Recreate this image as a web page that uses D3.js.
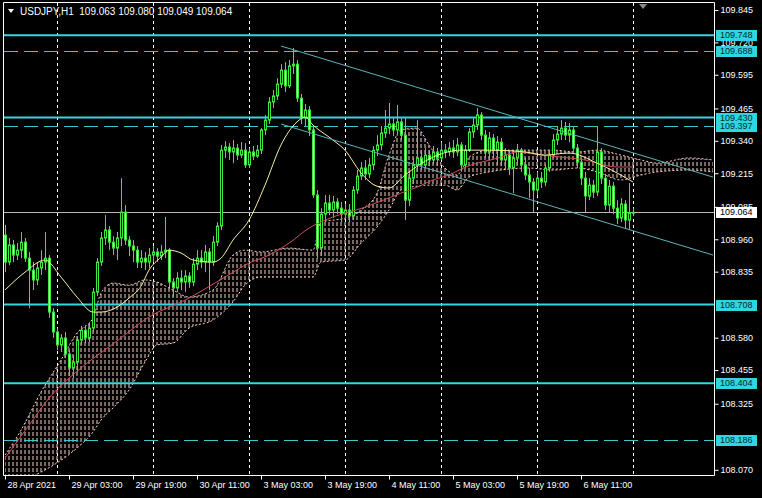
<!DOCTYPE html>
<html><head><meta charset="utf-8">
<script src="https://cdn.jsdelivr.net/npm/d3@7"></script>
<style>html,body{margin:0;padding:0;background:#000;}svg{display:block;}</style>
</head><body><svg id="c" width="762" height="498"></svg>
<script>
// ---------- DATA ----------
const symbolTitle = "USDJPY,H1";
const lastQuote = [109.063, 109.080, 109.049, 109.064];
// hourly bars from 28 Apr 2021 11:00, [open, high, low, close]
const ohlc = [
[108.976,109.015,108.833,108.872],[108.872,108.965,108.860,108.938],[108.938,108.957,108.872,108.899],[108.899,108.945,108.880,108.918],
[108.918,108.988,108.887,108.949],[108.949,108.965,108.872,108.887],[108.887,108.911,108.694,108.841],[108.841,108.872,108.764,108.803],
[108.803,108.872,108.783,108.849],[108.849,108.918,108.822,108.872],[108.872,108.988,108.841,108.887],[108.887,108.899,108.656,108.679],
[108.679,108.694,108.579,108.602],[108.602,108.617,108.532,108.552],[108.552,108.594,108.525,108.579],[108.579,108.602,108.501,108.517],
[108.517,108.532,108.432,108.463],[108.463,108.513,108.424,108.486],[108.486,108.586,108.447,108.571],[108.571,108.625,108.552,108.609],
[108.609,108.629,108.559,108.579],[108.579,108.640,108.563,108.617],[108.617,108.772,108.602,108.756],[108.756,108.887,108.741,108.872],
[108.872,108.988,108.857,108.965],[108.965,109.053,108.938,108.996],[108.996,109.011,108.918,108.949],[108.949,108.972,108.899,108.926],
[108.926,108.988,108.880,108.965],[108.965,109.196,108.934,109.065],[109.065,109.092,108.938,108.957],[108.957,108.972,108.895,108.934],
[108.934,108.957,108.872,108.918],[108.918,108.934,108.849,108.872],[108.872,108.918,108.849,108.887],[108.887,108.911,108.841,108.872],
[108.872,108.926,108.849,108.899],[108.899,108.934,108.872,108.911],[108.911,108.926,108.872,108.895],[108.895,108.938,108.880,108.911],
[108.911,109.046,108.887,108.918],[108.918,108.926,108.772,108.795],[108.795,108.810,108.737,108.772],[108.772,108.833,108.756,108.810],
[108.810,108.841,108.764,108.795],[108.795,108.841,108.756,108.818],[108.818,108.833,108.772,108.795],[108.795,108.887,108.779,108.864],
[108.864,108.918,108.841,108.887],[108.887,108.918,108.849,108.872],[108.872,108.938,108.833,108.911],[108.911,108.926,108.764,108.872],
[108.872,108.972,108.857,108.949],[108.949,109.026,108.934,109.011],[109.011,109.324,108.996,109.304],[109.304,109.339,109.274,109.316],
[109.316,109.331,109.266,109.297],[109.297,109.343,109.254,109.312],[109.312,109.328,109.266,109.285],[109.285,109.335,109.274,109.304],
[109.304,109.331,109.235,109.247],[109.247,109.312,109.235,109.297],[109.297,109.320,109.266,109.281],[109.281,109.324,109.274,109.304],
[109.304,109.389,109.289,109.382],[109.382,109.440,109.362,109.420],[109.420,109.509,109.405,109.490],[109.490,109.536,109.467,109.513],
[109.513,109.582,109.498,109.559],[109.559,109.636,109.544,109.613],[109.613,109.644,109.528,109.552],[109.552,109.652,109.544,109.629],
[109.629,109.698,109.598,109.636],[109.636,109.652,109.490,109.505],[109.505,109.521,109.405,109.428],[109.428,109.482,109.397,109.459],
[109.459,109.474,109.358,109.382],[109.382,109.397,109.119,109.131],[109.131,109.150,108.887,108.926],[108.926,109.080,108.895,109.057],
[109.057,109.131,109.026,109.100],[109.100,109.131,109.053,109.073],[109.073,109.127,109.042,109.104],[109.104,109.119,109.057,109.080],
[109.080,109.104,109.026,109.057],[109.057,109.096,109.042,109.073],[109.073,109.096,109.026,109.050],[109.050,109.165,109.034,109.150],
[109.150,109.227,109.135,109.204],[109.204,109.258,109.189,109.235],[109.235,109.266,109.189,109.212],[109.212,109.274,109.196,109.247],
[109.247,109.320,109.227,109.304],[109.304,109.362,109.281,109.324],[109.324,109.397,109.304,109.370],[109.370,109.459,109.351,109.389],
[109.389,109.486,109.366,109.405],[109.405,109.428,109.358,109.382],[109.382,109.478,109.366,109.413],[109.413,109.428,109.343,109.362],
[109.362,109.428,109.034,109.111],[109.111,109.220,109.088,109.196],[109.196,109.274,109.173,109.247],[109.247,109.420,109.220,109.274],
[109.274,109.304,109.227,109.247],[109.247,109.312,109.235,109.285],[109.285,109.304,109.243,109.266],[109.266,109.320,109.250,109.297],
[109.297,109.312,109.243,109.274],[109.274,109.335,109.266,109.304],[109.304,109.328,109.274,109.297],[109.297,109.335,109.281,109.312],
[109.312,109.343,109.274,109.297],[109.297,109.351,109.281,109.324],[109.324,109.335,109.227,109.247],[109.247,109.324,109.235,109.304],
[109.304,109.389,109.297,109.374],[109.374,109.428,109.351,109.401],[109.401,109.467,109.382,109.440],[109.440,109.451,109.343,109.362],
[109.362,109.382,109.274,109.297],[109.297,109.374,109.266,109.351],[109.351,109.366,109.274,109.304],[109.304,109.358,109.247,109.335],
[109.335,109.351,109.243,109.266],[109.266,109.312,109.227,109.285],[109.285,109.304,109.208,109.235],[109.235,109.304,109.138,109.274],
[109.274,109.328,109.247,109.304],[109.304,109.312,109.220,109.247],[109.247,109.274,109.189,109.208],[109.208,109.235,109.119,109.181],
[109.181,109.196,109.065,109.150],[109.150,109.220,109.131,109.196],[109.196,109.220,109.158,109.181],[109.181,109.250,109.165,109.235],
[109.235,109.304,109.220,109.285],[109.285,109.366,109.274,109.343],[109.343,109.397,109.324,109.366],[109.366,109.420,109.343,109.389],
[109.389,109.413,109.343,109.362],[109.362,109.409,109.335,109.382],[109.382,109.397,109.297,109.312],[109.312,109.328,109.235,109.258],
[109.258,109.274,109.169,109.196],[109.196,109.220,109.065,109.127],[109.127,109.196,109.111,109.169],[109.169,109.189,109.119,109.142],
[109.142,109.397,109.127,109.297],[109.297,109.312,109.173,109.196],[109.196,109.212,109.073,109.092],[109.092,109.189,109.065,109.165],
[109.165,109.181,109.057,109.080],[109.080,109.111,109.019,109.042],[109.042,109.119,109.026,109.096],[109.096,109.111,109.003,109.034],
[109.034,109.177,108.996,109.063],[109.063,109.080,109.049,109.064]
];
const timeTicks = [[0,"28 Apr 2021"],[16,"29 Apr 03:00"],[32,"29 Apr 19:00"],[48,"30 Apr 11:00"],[64,"3 May 03:00"],
  [80,"3 May 19:00"],[96,"4 May 11:00"],[112,"5 May 03:00"],[128,"5 May 19:00"],[144,"6 May 11:00"]];
const daySeparators = [13, 37, 61, 85, 109, 133, 157];
const priceTicks = [109.845,109.720,109.595,109.465,109.340,109.215,109.085,108.960,108.835,108.580,108.455,108.325,108.070];
const hLinesSolid = [109.748, 109.430, 108.708, 108.404];
const hLinesDashed = [109.688, 109.397, 108.186];
const bidPrice = 109.064;
// moving averages, [bar, price]
const maFast = [[0,108.764],[5,108.833],[10,108.880],[14,108.814],[18,108.737],[22,108.679],[24,108.679],[28,108.698],
  [31,108.733],[34,108.779],[36,108.841],[39,108.891],[41,108.918],[44,108.907],[47,108.880],[52,108.872],[54,108.887],
  [57,108.957],[61,109.034],[65,109.169],[69,109.324],[73,109.413],[75,109.432],[77,109.401],[82,109.343],[85,109.304],
  [89,109.216],[93,109.165],[96,109.158],[100,109.208],[107,109.277],[114,109.304],[121,109.304],[130,109.297],
  [135,109.285],[141,109.293],[148,109.254],[153,109.216],[157,109.181]];
const maSlow = [[0,108.115],[6,108.242],[11,108.347],[19,108.463],[28,108.567],[36,108.660],[45,108.725],[55,108.814],
  [61,108.868],[66,108.899],[71,108.945],[76,109.003],[80,109.034],[90,109.084],[99,109.138],[103,109.161],[107,109.189],
  [111,109.208],[115,109.238],[124,109.277],[128,109.297],[134,109.285],[145,109.266],[153,109.239],[157,109.239]];
// Ichimoku cloud
const cloudBars = [0,4,9,14,18,22,24,27,31,35,38,42,46,52,57,60,64,71,77,79,85,89,93,96,99,103,106,110,113,116,121,131,137,143,148,154,159,163,171,177];
const spanA = [108.127,108.223,108.370,108.494,108.598,108.656,108.752,108.791,108.783,108.803,108.795,108.764,108.737,108.764,
  108.899,108.918,108.911,108.926,108.918,109.026,109.042,109.073,109.138,109.285,109.382,109.389,109.324,109.235,109.208,
  109.277,109.304,109.304,109.304,109.297,109.304,109.285,109.266,109.254,109.274,109.266];
const spanB = [107.992,108.023,108.061,108.107,108.154,108.216,108.262,108.309,108.378,108.486,108.552,108.559,108.617,108.648,
  108.718,108.783,108.814,108.814,108.814,108.872,108.880,108.945,109.007,109.073,109.150,109.165,109.169,109.169,109.150,
  109.200,109.220,109.235,109.227,109.235,109.220,109.189,109.208,109.220,109.227,109.220];
const channelUpper = [[69,109.706],[177,109.200]];
const channelLower = [[69,109.405],[177,108.899]];

// ---------- CHART ----------
const svg = d3.select("#c");
const L = 4, R = 714, T = 3, B = 475;
const x = d3.scaleLinear().domain([0,177]).range([5,713]);
const y = d3.scaleLinear().domain([108.050,109.8682]).range([475,4]);
const font = "'Liberation Sans', Arial, sans-serif";

svg.append("rect").attr("width",762).attr("height",498).attr("fill","#000");
const defs = svg.append("defs");
defs.append("clipPath").attr("id","clip").append("rect").attr("x",L).attr("y",T).attr("width",R-L).attr("height",B-T);
const pat = defs.append("pattern").attr("id","hatch").attr("patternUnits","userSpaceOnUse")
  .attr("x",x(0)-0.5).attr("y",0).attr("width",4).attr("height",6);
pat.append("line").attr("x1",0.5).attr("x2",0.5).attr("y1",0).attr("y2",4).attr("stroke","#f4cfc6").attr("stroke-width",1);

const plot = svg.append("g").attr("clip-path","url(#clip)");

// day separators
plot.selectAll(".sep").data(daySeparators).join("line")
  .attr("x1",d=>Math.round(x(d))+0.5).attr("x2",d=>Math.round(x(d))+0.5).attr("y1",T).attr("y2",B)
  .attr("stroke","#fff").attr("stroke-dasharray","3,3").attr("stroke-width",1);

// cloud
const cloud = cloudBars.map((b,i)=>({b, a:spanA[i], s:spanB[i]}));
plot.append("path").datum(cloud)
  .attr("d", d3.area().x(d=>x(d.b)).y0(d=>y(d.s)).y1(d=>y(d.a)).curve(d3.curveMonotoneX))
  .attr("fill","url(#hatch)");
["a","s"].forEach(k=>{
  plot.append("path").datum(cloud)
    .attr("d", d3.line().x(d=>x(d.b)).y(d=>y(d[k])).curve(d3.curveMonotoneX))
    .attr("fill","none").attr("stroke","#f4cfc6").attr("stroke-width",1).attr("stroke-dasharray","2,2");
});

// horizontal lines
plot.selectAll(".hs").data(hLinesSolid).join("line")
  .attr("x1",L).attr("x2",R).attr("y1",d=>y(d)).attr("y2",d=>y(d))
  .attr("stroke","#38d6e2").attr("stroke-width",2);
plot.selectAll(".hd").data(hLinesDashed).join("line")
  .attr("x1",L).attr("x2",R).attr("y1",d=>Math.round(y(d))+0.5).attr("y2",d=>Math.round(y(d))+0.5)
  .attr("stroke","#38c8d0").attr("stroke-width",1).attr("stroke-dasharray","14,6");
plot.append("line").attr("x1",L).attr("x2",R).attr("y1",Math.round(y(bidPrice))+0.5).attr("y2",Math.round(y(bidPrice))+0.5)
  .attr("stroke","#b8b8b8").attr("stroke-width",1);

// candles
const cg = plot.append("g");
ohlc.forEach((d,i)=>{
  const cx = Math.round(x(i));
  const [o,h,l,c] = d;
  cg.append("line").attr("x1",cx+0.5).attr("x2",cx+0.5).attr("y1",y(h)).attr("y2",y(l))
    .attr("stroke","#3ee83e").attr("stroke-width",1);
  const top = Math.min(y(o),y(c)), bot = Math.max(y(o),y(c));
  cg.append("rect").attr("x",cx-0.5).attr("y",top).attr("width",2).attr("height",Math.max(bot-top,1))
    .attr("fill", c>=o ? "#000" : "#d8ffd0").attr("stroke","#3ee83e").attr("stroke-width",1);
});

// moving averages
const ln = d3.line().x(d=>x(d[0])).y(d=>y(d[1])).curve(d3.curveMonotoneX);
plot.append("path").datum(maSlow).attr("d",ln).attr("fill","none").attr("stroke","#d04a5e").attr("stroke-width",1);
plot.append("path").datum(maFast).attr("d",ln).attr("fill","none").attr("stroke","#f6efa4").attr("stroke-width",1);

// channel
[channelUpper, channelLower].forEach(ch=>{
  plot.append("line").attr("x1",x(ch[0][0])).attr("y1",y(ch[0][1])).attr("x2",x(ch[1][0])).attr("y2",y(ch[1][1]))
    .attr("stroke","#5fb3bd").attr("stroke-width",1);
});

// frame
svg.append("path").attr("d",`M${L-0.5},${T-0.5}H${R+0.5}V${B+0.5}H${L-0.5}Z`).attr("fill","none").attr("stroke","#fff").attr("stroke-width",1);

// right axis
const ya = svg.append("g").attr("transform",`translate(${R+0.5},0)`)
  .call(d3.axisRight(y).tickValues(priceTicks).tickFormat(d3.format(".3f")).tickSize(4).tickSizeOuter(0));
ya.select(".domain").remove();
ya.selectAll("line").attr("stroke","#fff");
ya.selectAll("text").attr("fill","#fff").attr("font-family",font).attr("font-size",9).attr("x",6);

// bottom axis
const tickMap = new Map(timeTicks);
const xa = svg.append("g").attr("transform",`translate(0,${B+0.5})`)
  .call(d3.axisBottom(x).tickValues(timeTicks.map(d=>d[0])).tickFormat(d=>tickMap.get(d)).tickSize(4).tickSizeOuter(0));
xa.select(".domain").remove();
xa.selectAll("line").attr("stroke","#fff");
xa.selectAll("text").attr("fill","#fff").attr("font-family",font).attr("font-size",9)
  .attr("text-anchor","start").attr("x",2).attr("y",6).attr("dy","0.71em");

// price labels
const labels = [...hLinesSolid.map(v=>({v,bg:"#2fd6e2",fg:"#002a30"})), ...hLinesDashed.map(v=>({v,bg:"#2fd6e2",fg:"#002a30"})),
  {v:bidPrice,bg:"#fff",fg:"#000"}];
const lg = svg.append("g");
labels.forEach(d=>{
  const yy = Math.round(y(d.v));
  lg.append("rect").attr("x",716).attr("y",yy-5).attr("width",41).attr("height",11).attr("fill",d.bg);
  lg.append("text").attr("x",720).attr("y",yy).attr("dy","0.35em").attr("font-family",font).attr("font-size",9)
    .attr("fill",d.fg).text(d3.format(".3f")(d.v));
});

// title
svg.append("path").attr("d","M8,9 L14,9 L11,13 Z").attr("fill","#fff");
svg.append("text").attr("x",20).attr("y",15).attr("font-family",font).attr("font-size",10).attr("fill","#fff")
  .attr("xml:space","preserve").text(`${symbolTitle}  ${lastQuote.map(d3.format(".3f")).join(" ")}`);
// shift marker
svg.append("path").attr("d","M639,4 L647,4 L643,9 Z").attr("fill","#8a8a8a");
</script></body></html>
